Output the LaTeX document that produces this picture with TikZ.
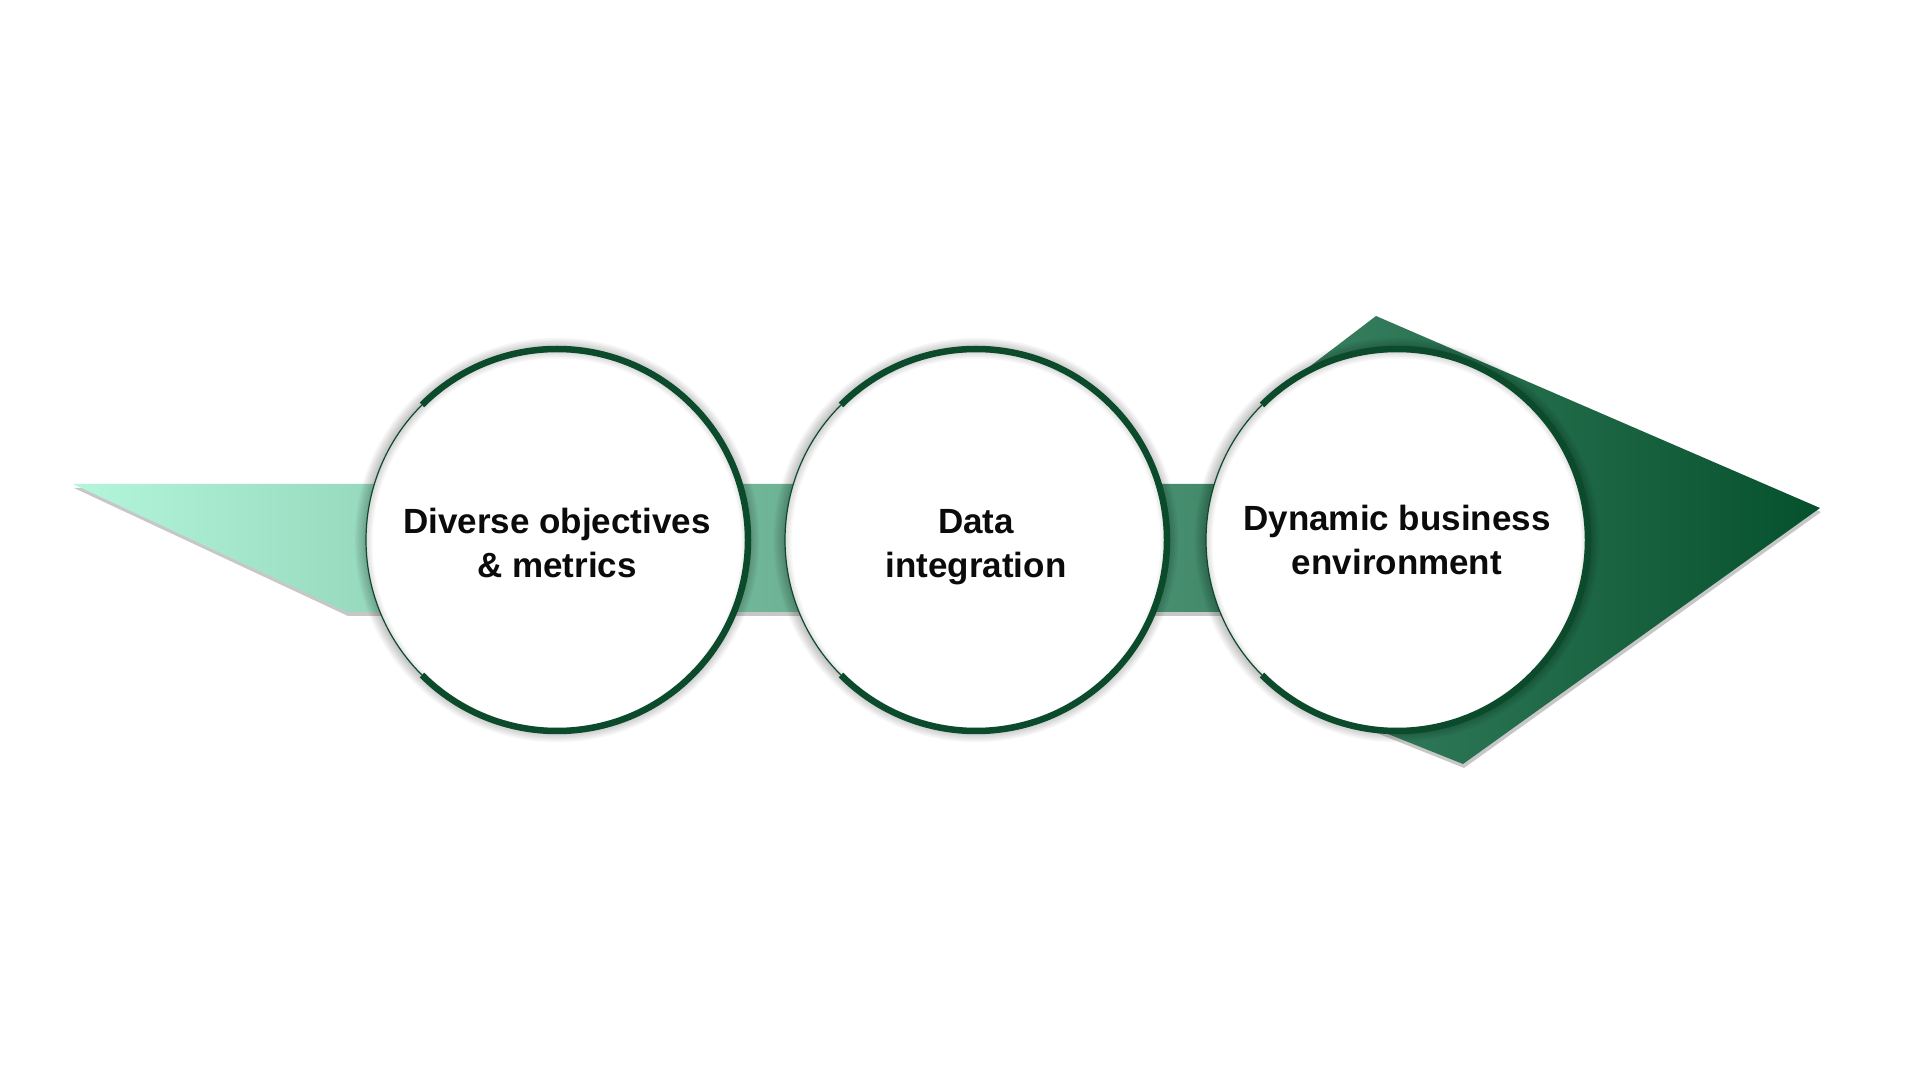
\documentclass[tikz,border=0pt]{standalone}
\usepackage{fontspec}
\setmainfont{Liberation Sans}
\usetikzlibrary{positioning,calc}
\definecolor{mint}{HTML}{B4F6DC}
\definecolor{forest}{HTML}{05502D}
\definecolor{ring}{HTML}{0B4A2B}
\definecolor{ink}{HTML}{0B0B0B}

\begin{document}
\begin{tikzpicture}[x=1pt,y=1pt,
    stage/.style={circle,fill=white,inner sep=0pt,minimum size=382pt},
    stagetext/.style={align=center,text=ink,text depth=0pt,
        font=\fontsize{35}{44}\selectfont\bfseries},
    rim/.style={draw=ring,line width=6.5pt},
    rimthin/.style={draw=ring,line width=1.2pt},
    halo/.style={fill=black,opacity=0.035},
  ]
  \useasboundingbox (0,0) rectangle (1920,1080);
  \fill[white] (0,0) rectangle (1920,1080);

  \def\R{191}    % circle radius
  \def\bt{596}   % band top
  \def\bb{468}   % band bottom
  \def\cy{540}   % circle centre line

  % ============================================================= ARROW
  % tail + band + head as one path, shaded mint -> forest
  \def\arrowpath{(73,\bt) -- (1397,\bt) -- (1305,680) -- (1292,700)
    -- (1376,764) -- (1820,572) -- (1463,316) -- (1363,356)
    -- (1397,\bb) -- (347,\bb) -- cycle}
  \fill[black,opacity=0.22,shift={(1,-4)}] \arrowpath;
  \shade[left color=mint,right color=forest] \arrowpath;

  % ============================================================= STAGES
  \foreach \cx/\nm/\txt/\dy in {
      557/obj/{Diverse objectives\\\& metrics}/-3,
      976/data/{Data\\integration}/-3,
      1397/env/{Dynamic business\\environment}/0}{
    % soft halo round the disc
    \foreach \k in {1,...,7}
      \fill[halo] (\cx,\cy) circle (\R+\k*1.6);
    \node[stage] (\nm) at (\cx,\cy) {};
    % inner shadow under the rim
    \begin{scope}
      \clip (\nm.center) circle (\R);
      \foreach \k in {1,...,5}
        \draw[black,opacity=0.03,line width=\k*3pt]
          ([yshift=-3pt]\nm.center) circle (\R+1);
    \end{scope}
    % rim: thick arc, thin on the left
    \draw[rim] ([shift={(-135:\R)}]\nm.center)
      arc[start angle=-135,end angle=135,radius=\R];
    \draw[rimthin] ([shift={(135:\R)}]\nm.center)
      arc[start angle=135,end angle=225,radius=\R];
    \node[stagetext] (\nm-t) at ([yshift=\dy pt]\nm.center) {\txt};
  }

\end{tikzpicture}
\end{document}
